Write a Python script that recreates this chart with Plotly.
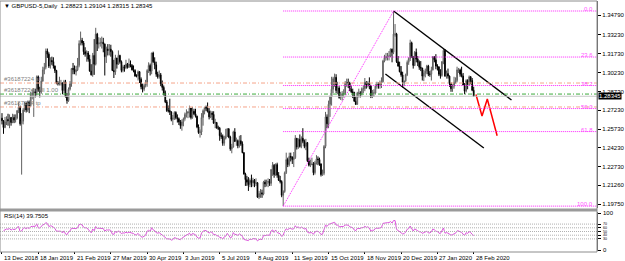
import plotly.graph_objects as go

# ---------------- data (GBPUSD daily, 13 Dec 2018 .. 28 Feb 2020) ----------------
date_labels = ["13 Dec 2018", "18 Jan 2019", "21 Feb 2019", "27 Mar 2019", "30 Apr 2019",
               "3 Jun 2019", "5 Jul 2019", "8 Aug 2019", "11 Sep 2019", "15 Oct 2019",
               "18 Nov 2019", "20 Dec 2019", "27 Jan 2020", "28 Feb 2020"]
date_label_bars = [0, 24, 48, 72, 96, 120, 144, 168, 192, 216, 240, 264, 288, 312]

first_open = 1.2660
close = [
    1.2640, 1.2585, 1.2630, 1.2650, 1.2640, 1.2665, 1.2625, 1.2665, 1.2645, 1.2660,
    1.2720, 1.2750, 1.2615, 1.2635, 1.2725, 1.2780, 1.2725, 1.2790, 1.2760, 1.2845,
    1.2860, 1.2870, 1.2865, 1.2990, 1.2880, 1.2870, 1.2955, 1.3045, 1.3065, 1.3195,
    1.3170, 1.3075, 1.3120, 1.3110, 1.3075, 1.3040, 1.2940, 1.2935, 1.2940, 1.2940,
    1.2880, 1.2950, 1.2830, 1.2800, 1.2890, 1.2935, 1.3055, 1.3050, 1.3030, 1.3045,
    1.3080, 1.3255, 1.3280, 1.3260, 1.3190, 1.3170, 1.3180, 1.3130, 1.3035, 1.3005,
    1.3160, 1.3090, 1.3330, 1.3250, 1.3260, 1.3260, 1.3265, 1.3250, 1.3150, 1.3210,
    1.3200, 1.3210, 1.3190, 1.3040, 1.3030, 1.3140, 1.3090, 1.3160, 1.3110, 1.3040,
    1.3070, 1.3060, 1.3090, 1.3065, 1.3090, 1.3080, 1.3045, 1.3040, 1.2995, 1.2995,
    1.3030, 1.2970, 1.2910, 1.2890, 1.2920, 1.2935, 1.3040, 1.3080, 1.3035, 1.3180,
    1.3110, 1.3085, 1.3010, 1.2990, 1.3005, 1.2935, 1.2905, 1.2860, 1.2790, 1.2720,
    1.2720, 1.2710, 1.2650, 1.2660, 1.2705, 1.2665, 1.2655, 1.2630, 1.2600, 1.2630,
    1.2655, 1.2690, 1.2700, 1.2710, 1.2740, 1.2665, 1.2715, 1.2695, 1.2675, 1.2590,
    1.2545, 1.2550, 1.2665, 1.2720, 1.2745, 1.2740, 1.2715, 1.2670, 1.2700, 1.2690,
    1.2620, 1.2625, 1.2580, 1.2580, 1.2520, 1.2515, 1.2460, 1.2500, 1.2515, 1.2575,
    1.2510, 1.2415, 1.2430, 1.2550, 1.2475, 1.2480, 1.2440, 1.2480, 1.2455, 1.2385,
    1.2215, 1.2170, 1.2150, 1.2130, 1.2165, 1.2145, 1.2165, 1.2140, 1.2145, 1.2030,
    1.2060, 1.2065, 1.2055, 1.2150, 1.2135, 1.2150, 1.2155, 1.2140, 1.2250, 1.2285,
    1.2210, 1.2290, 1.2205, 1.2165, 1.2155, 1.2045, 1.2075, 1.2225, 1.2330, 1.2290,
    1.2355, 1.2350, 1.2330, 1.2345, 1.2500, 1.2430, 1.2490, 1.2435, 1.2500, 1.2475,
    1.2435, 1.2465, 1.2320, 1.2285, 1.2290, 1.2295, 1.2225, 1.2305, 1.2335, 1.2330,
    1.2295, 1.2210, 1.2220, 1.2435, 1.2670, 1.2615, 1.2770, 1.2830, 1.2890, 1.2975,
    1.2985, 1.2880, 1.2900, 1.2825, 1.2835, 1.2855, 1.2855, 1.2940, 1.2945, 1.2940,
    1.2890, 1.2870, 1.2865, 1.2795, 1.2770, 1.2860, 1.2860, 1.2855, 1.2895, 1.2895,
    1.2945, 1.2920, 1.2940, 1.2915, 1.2830, 1.2860, 1.2860, 1.2915, 1.2930, 1.2920,
    1.2940, 1.2950, 1.3115, 1.3140, 1.3150, 1.3155, 1.3155, 1.3210, 1.3185, 1.3330,
    1.3330, 1.3110, 1.3075, 1.3030, 1.3005, 1.2945, 1.2955, 1.3005, 1.3105, 1.3135,
    1.3260, 1.3150, 1.3080, 1.3185, 1.3130, 1.3105, 1.3065, 1.3060, 1.2995, 1.3020,
    1.3035, 1.3075, 1.3010, 1.3010, 1.3045, 1.3150, 1.3125, 1.3075, 1.3070, 1.3010,
    1.3000, 1.3110, 1.3200, 1.2995, 1.3015, 1.2995, 1.2935, 1.2895, 1.2915, 1.2945,
    1.2960, 1.3045, 1.3045, 1.3010, 1.2995, 1.2925, 1.2875, 1.2960, 1.2930, 1.2990,
    1.2960, 1.28823, 1.28345]
high = [
    1.2700, 1.2645, 1.2670, 1.2675, 1.2695, 1.2690, 1.2670, 1.2695, 1.2690, 1.2690,
    1.2725, 1.2785, 1.2760, 1.2700, 1.2740, 1.2790, 1.2785, 1.2800, 1.2800, 1.2870,
    1.2890, 1.2900, 1.2895, 1.3000, 1.3000, 1.2910, 1.2990, 1.3070, 1.3100, 1.3215,
    1.3215, 1.3185, 1.3145, 1.3150, 1.3145, 1.3080, 1.3045, 1.2955, 1.2990, 1.2965,
    1.2945, 1.2965, 1.2965, 1.2860, 1.2905, 1.2955, 1.3060, 1.3100, 1.3080, 1.3075,
    1.3140, 1.3280, 1.3350, 1.3300, 1.3275, 1.3225, 1.3200, 1.3195, 1.3165, 1.3090,
    1.3180, 1.3290, 1.3380, 1.3340, 1.3305, 1.3300, 1.3310, 1.3300, 1.3255, 1.3230,
    1.3250, 1.3250, 1.3245, 1.3200, 1.3125, 1.3165, 1.3140, 1.3200, 1.3165, 1.3120,
    1.3085, 1.3085, 1.3125, 1.3100, 1.3135, 1.3120, 1.3090, 1.3080, 1.3050, 1.3010,
    1.3040, 1.3035, 1.2985, 1.2935, 1.2935, 1.2965, 1.3050, 1.3105, 1.3095, 1.3180,
    1.3190, 1.3145, 1.3110, 1.3030, 1.3040, 1.3020, 1.2960, 1.2920, 1.2880, 1.2805,
    1.2760, 1.2815, 1.2715, 1.2685, 1.2715, 1.2715, 1.2690, 1.2665, 1.2645, 1.2650,
    1.2665, 1.2705, 1.2730, 1.2715, 1.2760, 1.2730, 1.2750, 1.2735, 1.2735, 1.2680,
    1.2610, 1.2570, 1.2700, 1.2730, 1.2750, 1.2760, 1.2785, 1.2740, 1.2720, 1.2715,
    1.2715, 1.2655, 1.2630, 1.2600, 1.2590, 1.2545, 1.2530, 1.2520, 1.2575, 1.2580,
    1.2580, 1.2520, 1.2455, 1.2560, 1.2580, 1.2505, 1.2490, 1.2520, 1.2525, 1.2475,
    1.2390, 1.2225, 1.2200, 1.2190, 1.2180, 1.2210, 1.2185, 1.2175, 1.2180, 1.2150,
    1.2080, 1.2095, 1.2090, 1.2160, 1.2170, 1.2170, 1.2180, 1.2175, 1.2255, 1.2310,
    1.2295, 1.2300, 1.2305, 1.2230, 1.2200, 1.2165, 1.2085, 1.2235, 1.2385, 1.2345,
    1.2385, 1.2385, 1.2355, 1.2390, 1.2525, 1.2500, 1.2500, 1.2530, 1.2515, 1.2580,
    1.2490, 1.2495, 1.2470, 1.2345, 1.2330, 1.2345, 1.2310, 1.2320, 1.2365, 1.2355,
    1.2345, 1.2300, 1.2250, 1.2445, 1.2710, 1.2690, 1.2800, 1.2840, 1.2990, 1.2990,
    1.3015, 1.3010, 1.2950, 1.2915, 1.2870, 1.2875, 1.2890, 1.2955, 1.2975, 1.2975,
    1.2950, 1.2915, 1.2895, 1.2870, 1.2830, 1.2870, 1.2895, 1.2875, 1.2905, 1.2925,
    1.2980, 1.2955, 1.2955, 1.2985, 1.2925, 1.2885, 1.2890, 1.2930, 1.2950, 1.2945,
    1.2960, 1.2985, 1.3125, 1.3165, 1.3180, 1.3180, 1.3195, 1.3215, 1.3215, 1.3514,
    1.3410, 1.3340, 1.3155, 1.3110, 1.3075, 1.3030, 1.2960, 1.3015, 1.3120, 1.3145,
    1.3285, 1.3270, 1.3155, 1.3195, 1.3215, 1.3155, 1.3120, 1.3115, 1.3060, 1.3045,
    1.3055, 1.3085, 1.3085, 1.3035, 1.3070, 1.3155, 1.3150, 1.3170, 1.3090, 1.3070,
    1.3050, 1.3115, 1.3210, 1.3210, 1.3040, 1.3055, 1.3000, 1.2945, 1.2930, 1.2990,
    1.2985, 1.3070, 1.3060, 1.3055, 1.3070, 1.3020, 1.2940, 1.2970, 1.2970, 1.3000,
    1.2995, 1.2980, 1.29104]
low = [
    1.2610, 1.2535, 1.2580, 1.2605, 1.2600, 1.2580, 1.2600, 1.2620, 1.2620, 1.2625,
    1.2650, 1.2700, 1.2600, 1.2210, 1.2610, 1.2710, 1.2705, 1.2710, 1.2700, 1.2750,
    1.2810, 1.2670, 1.2825, 1.2840, 1.2870, 1.2825, 1.2855, 1.2950, 1.3010, 1.3050,
    1.3140, 1.3060, 1.3055, 1.3085, 1.3055, 1.3020, 1.2930, 1.2920, 1.2920, 1.2920,
    1.2850, 1.2860, 1.2825, 1.2775, 1.2790, 1.2880, 1.2910, 1.3010, 1.3010, 1.3000,
    1.3035, 1.3065, 1.3240, 1.3240, 1.3165, 1.3150, 1.3110, 1.3110, 1.3030, 1.3000,
    1.2990, 1.3005, 1.3080, 1.3195, 1.3215, 1.3230, 1.3215, 1.3185, 1.3000, 1.3100,
    1.3160, 1.3160, 1.3150, 1.3035, 1.2980, 1.3005, 1.3055, 1.3085, 1.3095, 1.3025,
    1.3025, 1.3030, 1.3050, 1.3055, 1.3060, 1.3065, 1.3040, 1.3025, 1.2990, 1.2985,
    1.2960, 1.2940, 1.2890, 1.2865, 1.2875, 1.2905, 1.2910, 1.3020, 1.3000, 1.3010,
    1.3100, 1.3050, 1.2990, 1.2975, 1.2975, 1.2915, 1.2880, 1.2840, 1.2780, 1.2710,
    1.2705, 1.2685, 1.2635, 1.2605, 1.2645, 1.2650, 1.2625, 1.2605, 1.2575, 1.2560,
    1.2595, 1.2640, 1.2665, 1.2660, 1.2665, 1.2650, 1.2655, 1.2685, 1.2665, 1.2580,
    1.2535, 1.2505, 1.2525, 1.2600, 1.2690, 1.2715, 1.2705, 1.2650, 1.2660, 1.2645,
    1.2615, 1.2580, 1.2580, 1.2565, 1.2480, 1.2495, 1.2440, 1.2440, 1.2490, 1.2510,
    1.2500, 1.2400, 1.2380, 1.2425, 1.2470, 1.2440, 1.2420, 1.2425, 1.2440, 1.2380,
    1.2210, 1.2120, 1.2120, 1.2080, 1.2110, 1.2110, 1.2115, 1.2110, 1.2120, 1.2025,
    1.2015, 1.2025, 1.2025, 1.2045, 1.2110, 1.2115, 1.2110, 1.2120, 1.2120, 1.2200,
    1.2185, 1.2200, 1.2185, 1.2160, 1.2140, 1.2030, 1.1959, 1.2065, 1.2215, 1.2270,
    1.2275, 1.2315, 1.2295, 1.2270, 1.2335, 1.2410, 1.2415, 1.2425, 1.2420, 1.2460,
    1.2420, 1.2405, 1.2310, 1.2275, 1.2270, 1.2285, 1.2205, 1.2210, 1.2290, 1.2285,
    1.2280, 1.2195, 1.2200, 1.2205, 1.2420, 1.2580, 1.2580, 1.2670, 1.2760, 1.2860,
    1.2910, 1.2860, 1.2850, 1.2815, 1.2805, 1.2800, 1.2825, 1.2845, 1.2910, 1.2900,
    1.2875, 1.2860, 1.2820, 1.2790, 1.2765, 1.2775, 1.2825, 1.2825, 1.2840, 1.2860,
    1.2875, 1.2895, 1.2905, 1.2890, 1.2820, 1.2820, 1.2830, 1.2855, 1.2895, 1.2895,
    1.2895, 1.2900, 1.2945, 1.3105, 1.3120, 1.3120, 1.3120, 1.3145, 1.3105, 1.3170,
    1.3310, 1.3100, 1.3070, 1.3025, 1.2990, 1.2905, 1.2915, 1.2950, 1.2995, 1.3085,
    1.3115, 1.3140, 1.3055, 1.3075, 1.3105, 1.3075, 1.3045, 1.3035, 1.2960, 1.2955,
    1.2985, 1.3010, 1.2995, 1.2990, 1.2960, 1.3040, 1.3105, 1.3050, 1.3040, 1.2995,
    1.2975, 1.2990, 1.3090, 1.2990, 1.2975, 1.2975, 1.2910, 1.2870, 1.2870, 1.2895,
    1.2935, 1.2945, 1.3020, 1.2990, 1.2985, 1.2920, 1.2850, 1.2865, 1.2890, 1.2920,
    1.2930, 1.2875, 1.28315]

# chart objects drawn by the trader
fib_start = (186, 1.1959)          # Sep 3 2019 low
fib_end = (259, 1.3514)            # Dec 13 2019 high
fib_levels = [0.0, 23.6, 38.2, 50.0, 61.8, 100.0]
channel_upper = [(259, 1.3514), (337, 1.2805)]
channel_lower = [(253.6, 1.3012), (318.7, 1.2422)]
zigzag_x = [313.5, 317.5, 321.0, 327.5]
zigzag_y = [1.2848, 1.2677, 1.2813, 1.2520]
order_sl = 1.2940
order_open = 1.2852
order_tp = 1.2749
order_labels = ["#36187224 sl", "#36187224 sell 1.00", "#36187224 tp"]
price_ticks = [1.3479, 1.3323, 1.3173, 1.3023, 1.2873, 1.2723, 1.2573, 1.2423, 1.2273, 1.2126, 1.1975]
price_tick_text = ["1.34790", "1.33230", "1.31730", "1.30230", "1.28730", "1.27230",
                   "1.25730", "1.24230", "1.22730", "1.21260", "1.19750"]
rsi_levels = [30, 40, 50, 60, 70]
rsi_outer_ticks = [0, 100]
rsi_inner_ticks = [30, 40, 50, 60, 70]

# ---------------- derived ----------------
n = len(close)
xs = list(range(n))
opens = [first_open] + close[:-1]


def rsi_calc(c, period=14):
    diffs = [c[i] - c[i - 1] for i in range(1, len(c))]
    ag = sum(max(d, 0) for d in diffs[:period]) / period
    al = sum(max(-d, 0) for d in diffs[:period]) / period
    out = [None]
    for d in diffs:
        ag = (ag * (period - 1) + max(d, 0)) / period
        al = (al * (period - 1) + max(-d, 0)) / period
        out.append(100.0 if al == 0 else 100 - 100 / (1 + ag / al))
    return out


rsi = rsi_calc(close)

# ---------------- pixel layout helpers ----------------
W, H = 625, 261
M_T, M_B, M_L, M_R = 1, 9, 0, 24
PH = H - M_T - M_B
def py(px):
    return (H - M_B - px) / PH

XR = [-1.314, 393.56]
YR = [1.19439, 1.35937]
RR = [-2.7, 102.7]
FONT = "Liberation Sans, Arial, sans-serif"
MAG = "#ff22ff"
DOT = "1px,1px"
DASHDOT = "4px,2px,1px,2px"

fig = go.Figure()
fig.add_trace(go.Candlestick(
    x=xs, open=opens, high=high, low=low, close=close,
    increasing=dict(line=dict(color="#606060", width=1), fillcolor="#ffffff"),
    decreasing=dict(line=dict(color="#000000", width=1), fillcolor="#000000"),
    whiskerwidth=0, xaxis="x", yaxis="y", showlegend=False, hoverinfo="skip"))

fig.add_trace(go.Scatter(x=[fib_start[0], fib_end[0]], y=[fib_start[1], fib_end[1]],
                         mode="lines", line=dict(color=MAG, width=1, dash=DOT),
                         xaxis="x", yaxis="y", showlegend=False, hoverinfo="skip"))
for ln in (channel_upper, channel_lower):
    fig.add_trace(go.Scatter(x=[p[0] for p in ln], y=[p[1] for p in ln], mode="lines",
                             line=dict(color="#000000", width=1.4),
                             xaxis="x", yaxis="y", showlegend=False, hoverinfo="skip"))
fig.add_trace(go.Scatter(x=zigzag_x, y=zigzag_y, mode="lines",
                         line=dict(color="#ff0000", width=1.5),
                         xaxis="x", yaxis="y", showlegend=False, hoverinfo="skip"))
fig.add_trace(go.Scatter(x=xs, y=rsi, mode="lines", line=dict(color="#dd55dd", width=1),
                         xaxis="x2", yaxis="y2", showlegend=False, hoverinfo="skip"))

shapes = []
for lvl, col in ((order_sl, "#f5a58a"), (order_tp, "#f5a58a"), (order_open, "#3caa3c")):
    shapes.append(dict(type="line", xref="paper", x0=0, x1=1, yref="y", y0=lvl, y1=lvl,
                       line=dict(color=col, width=1, dash=DASHDOT)))
shapes.append(dict(type="line", xref="paper", x0=0, x1=1, yref="y", y0=close[-1], y1=close[-1],
                   line=dict(color="#c8c8c8", width=1)))
rng = fib_end[1] - fib_start[1]
annotations = []
for lv in fib_levels:
    p = fib_end[1] - rng * lv / 100.0
    shapes.append(dict(type="line", xref="x", x0=fib_start[0], x1=XR[1], yref="y", y0=p, y1=p,
                       line=dict(color=MAG, width=1, dash=DOT)))
    annotations.append(dict(x=XR[1] - 1.5, y=p, xref="x", yref="y", text="%.1f" % lv,
                            showarrow=False, xanchor="right", yanchor="middle", yshift=2,
                            font=dict(family=FONT, size=6, color="#ff55ff")))
for lv in rsi_levels:
    shapes.append(dict(type="line", xref="paper", x0=0, x1=1, yref="y2", y0=lv, y1=lv,
                       line=dict(color="#b0b0b0", width=1, dash=DOT)))
shapes.append(dict(type="rect", xref="paper", x0=0, x1=1, yref="paper", y0=py(211.5), y1=py(208.5),
                   fillcolor="#9a9a9a", line=dict(width=0)))
shapes.append(dict(type="rect", xref="paper", x0=0, x1=1, yref="paper", y0=0, y1=1,
                   line=dict(color="#8c8c8c", width=1), fillcolor="rgba(0,0,0,0)"))

for txt, lvl in zip(order_labels, (order_sl, order_open, order_tp)):
    annotations.append(dict(x=0.004, y=lvl, xref="paper", yref="y", text=txt, showarrow=False,
                            xanchor="left", yanchor="bottom", yshift=-1,
                            font=dict(family=FONT, size=6, color="#808080")))
annotations.append(dict(x=1, y=close[-1], xref="paper", yref="y", text="%.5f" % close[-1],
                        showarrow=False, xanchor="left", yanchor="middle", bgcolor="#000000",
                        borderpad=0, xshift=1, font=dict(family=FONT, size=6, color="#ffffff")))
annotations.append(dict(x=0.004, y=py(6), xref="paper", yref="paper",
                        text="\u25BC GBPUSD-5,Daily  1.28823 1.29104 1.28315 1.28345",
                        showarrow=False, xanchor="left", yanchor="middle",
                        font=dict(family=FONT, size=6, color="#000000")))
annotations.append(dict(x=0.004, y=py(216), xref="paper", yref="paper",
                        text="RSI(14) 39.7505", showarrow=False, xanchor="left", yanchor="middle",
                        font=dict(family=FONT, size=6, color="#000000")))
for b, t in zip(date_label_bars, date_labels):
    annotations.append(dict(x=b, y=0, xref="x2", yref="paper", text=t, showarrow=False,
                            xanchor="left", yanchor="top", yshift=-1,
                            font=dict(family=FONT, size=6, color="#000000")))
for v in rsi_outer_ticks:
    annotations.append(dict(x=1, y=v, xref="paper", yref="y2", text=str(v), showarrow=False,
                            xanchor="left", yanchor="middle", xshift=4,
                            font=dict(family=FONT, size=6, color="#000000")))
for v in rsi_inner_ticks:
    annotations.append(dict(x=1, y=v, xref="paper", yref="y2", text=str(v), showarrow=False,
                            xanchor="left", yanchor="middle", xshift=4,
                            font=dict(family=FONT, size=3.6, color="#000000")))

fig.update_layout(
    width=W, height=H, margin=dict(l=M_L, r=M_R, t=M_T, b=M_B),
    paper_bgcolor="#ffffff", plot_bgcolor="#ffffff",
    shapes=shapes, annotations=annotations,
    xaxis=dict(domain=[0, 1], range=XR, anchor="y", showticklabels=False, showgrid=False,
               zeroline=False, rangeslider=dict(visible=False), ticks=""),
    xaxis2=dict(domain=[0, 1], range=XR, anchor="y2", matches="x", showgrid=False, zeroline=False,
                tickvals=date_label_bars, ticktext=[""] * len(date_label_bars), ticks="outside",
                ticklen=2, tickcolor="#000000", showline=False),
    yaxis=dict(domain=[py(208), 1], range=YR, anchor="x", side="right", showgrid=False,
               zeroline=False, tickvals=price_ticks, ticktext=price_tick_text, ticks="outside",
               ticklen=3, tickcolor="#000000", showline=True, linecolor="#606060",
               tickfont=dict(family=FONT, size=6, color="#000000")),
    yaxis2=dict(domain=[py(251), py(212)], range=RR, anchor="x2", side="right", showgrid=False,
                zeroline=False, tickvals=rsi_outer_ticks + rsi_inner_ticks,
                ticktext=[""] * 7, ticks="outside", ticklen=3, tickcolor="#000000",
                showline=True, linecolor="#606060"),
)
fig.write_html("out.html")
